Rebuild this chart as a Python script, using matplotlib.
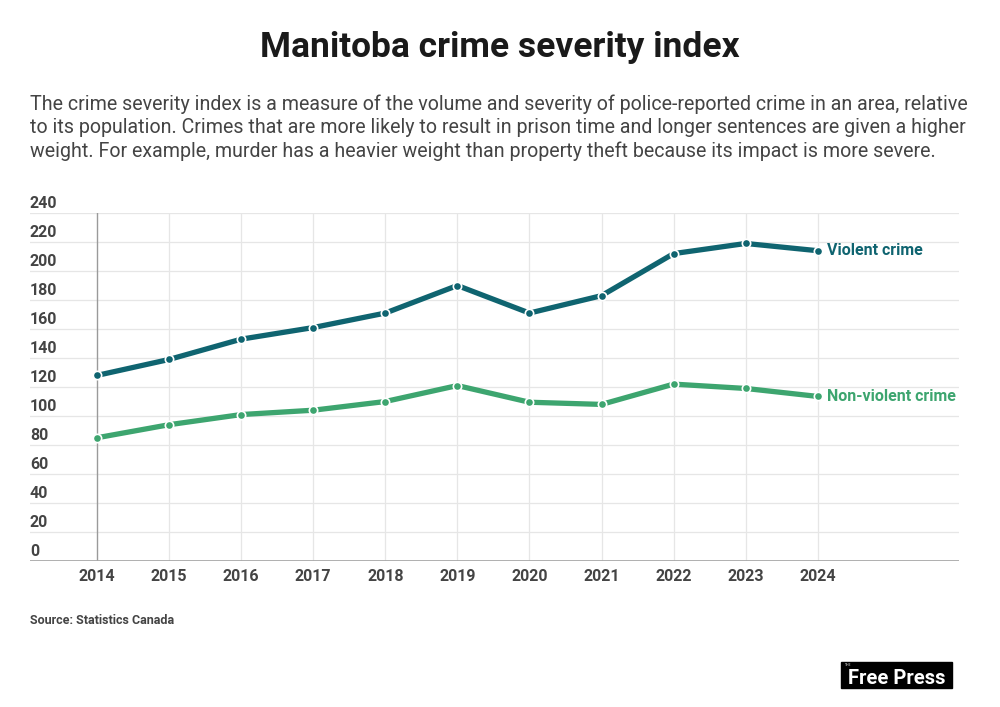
import matplotlib.pyplot as plt
from matplotlib.patches import Rectangle
from matplotlib.transforms import blended_transform_factory

# Data
years = [2014, 2015, 2016, 2017, 2018, 2019, 2020, 2021, 2022, 2023, 2024]
violent = [128, 139, 153, 161, 171, 190, 171, 183, 212, 219, 214]
non_violent = [85, 94, 101, 104, 110, 121, 109.5, 108, 122, 119, 113.5]
y_ticks = [0, 20, 40, 60, 80, 100, 120, 140, 160, 180, 200, 220, 240]

teal = '#0f6470'
green = '#3da56f'
grey_text = '#444444'

plt.rcParams['font.family'] = ['Roboto', 'DejaVu Sans']

fig = plt.figure(figsize=(10, 7.07), dpi=100)
ax = fig.add_axes([0.03, 0.2065, 0.929, 0.4922])

# Lines with small white-edged dots
ax.plot(years, violent, color=teal, lw=3.8, marker='o', ms=6,
        mfc=teal, mec='white', mew=1.2, zorder=4, solid_capstyle='round')
ax.plot(years, non_violent, color=green, lw=3.8, marker='o', ms=6,
        mfc=green, mec='white', mew=1.2, zorder=4, solid_capstyle='round')

ax.set_xlim(2013.07, 2025.96)
ax.set_ylim(0, 240)

# Grid
for t in y_ticks[1:]:
    ax.axhline(t, color='#e6e6e6', lw=0.9, zorder=1)
for yr in years[1:]:
    ax.axvline(yr, color='#e6e6e6', lw=0.9, zorder=1)
ax.axvline(years[0], color='#9a9a9a', lw=1.0, zorder=2)
ax.axhline(0, color='#a8a8a8', lw=2.0, zorder=3)

for s in ax.spines.values():
    s.set_visible(False)
ax.set_yticks([])
ax.set_xticks(years)
ax.set_xticklabels([str(y) for y in years], fontsize=11.5, fontweight='bold',
                   color=grey_text)
ax.tick_params(axis='x', length=0, pad=6)

# Y tick labels sit above their gridlines
tr = blended_transform_factory(ax.transAxes, ax.transData)
for t in y_ticks:
    ax.text(0.0, t + 1.2, str(t), transform=tr, ha='left', va='bottom',
            fontsize=11.5, fontweight='bold', color=grey_text)

# End labels
ax.text(years[-1] + 0.13, violent[-1], 'Violent crime', color=teal,
        fontsize=11.5, fontweight='bold', va='center', ha='left')
ax.text(years[-1] + 0.13, non_violent[-1], 'Non-violent crime', color=green,
        fontsize=11.5, fontweight='bold', va='center', ha='left')

# Title and description
fig.text(0.5, 1 - 47 / 707, 'Manitoba crime severity index', ha='center',
         va='center', fontsize=25.5, fontweight='bold', color='#1a1a1a')
desc = ('The crime severity index is a measure of the volume and severity of police-reported crime in an area, relative\n'
        'to its population. Crimes that are more likely to result in prison time and longer sentences are given a higher\n'
        'weight. For example, murder has a heavier weight than property theft because its impact is more severe.')
fig.text(0.03, 1 - 94 / 707, desc, ha='left', va='top', fontsize=14.1,
         color=grey_text, linespacing=1.3)

fig.text(0.03, 1 - 621 / 707, 'Source: Statistics Canada', ha='left',
         va='center', fontsize=9, fontweight='bold', color=grey_text)

# Logo
fig.patches.append(Rectangle((841 / 1000, 1 - 688 / 707), 111 / 1000, 26 / 707,
                             transform=fig.transFigure, color='black'))
fig.text(897 / 1000, 1 - 678 / 707, 'Free Press', ha='center', va='center',
         fontsize=14.5, fontweight='bold', color='white')
fig.text(845 / 1000, 1 - 665 / 707, 'THE', ha='left', va='center',
         fontsize=2.5, color='white')

fig.savefig('out.png', dpi=100, facecolor='white')
